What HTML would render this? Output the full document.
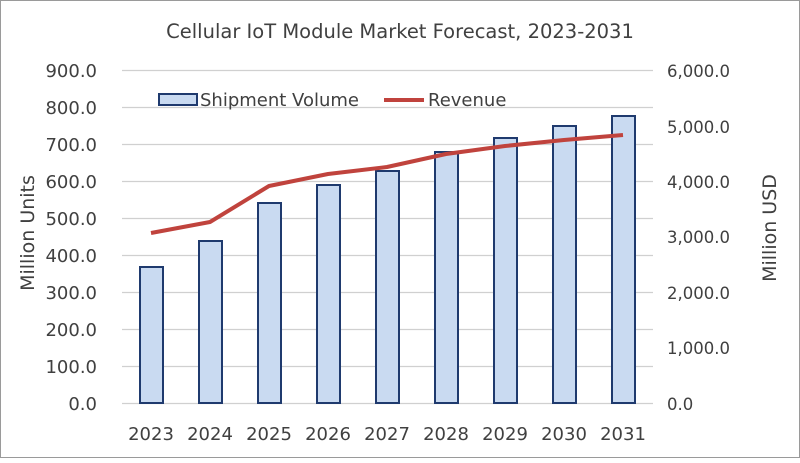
<!DOCTYPE html>
<html><head><style>body{margin:0;background:#fff}</style></head><body>
<svg width="800" height="458" xmlns="http://www.w3.org/2000/svg" font-family="'DejaVu Sans','Liberation Sans',sans-serif">
<rect x="0.5" y="0.5" width="799" height="457" fill="#fff" stroke="#9a9a9a"/>
<text x="400" y="38" font-size="19.5" text-anchor="middle" fill="#404040">Cellular IoT Module Market Forecast, 2023-2031</text>
<g stroke="#d0d0d0" stroke-width="1.3">
<line x1="122" x2="653" y1="70.5" y2="70.5"/><line x1="122" x2="653" y1="107.5" y2="107.5"/>
<line x1="122" x2="653" y1="144.5" y2="144.5"/><line x1="122" x2="653" y1="181.5" y2="181.5"/>
<line x1="122" x2="653" y1="218.5" y2="218.5"/><line x1="122" x2="653" y1="255.5" y2="255.5"/>
<line x1="122" x2="653" y1="292.5" y2="292.5"/><line x1="122" x2="653" y1="329.5" y2="329.5"/>
<line x1="122" x2="653" y1="366.5" y2="366.5"/><line x1="122" x2="653" y1="403.5" y2="403.5"/>
</g>
<g font-size="18" fill="#404040" text-anchor="end">
<text x="97" y="77">900.0</text><text x="97" y="114">800.0</text><text x="97" y="151">700.0</text>
<text x="97" y="188">600.0</text><text x="97" y="225">500.0</text><text x="97" y="262">400.0</text>
<text x="97" y="299">300.0</text><text x="97" y="336">200.0</text><text x="97" y="373">100.0</text>
<text x="97" y="410">0.0</text>
</g>
<g font-size="16.5" fill="#404040">
<text x="667" y="77">6,000.0</text><text x="667" y="133">5,000.0</text><text x="667" y="188">4,000.0</text>
<text x="667" y="243">3,000.0</text><text x="667" y="299">2,000.0</text><text x="667" y="354">1,000.0</text>
<text x="667" y="410">0.0</text>
</g>
<text transform="translate(34,233) rotate(-90)" font-size="19" fill="#404040" text-anchor="middle">Million Units</text>
<text transform="translate(776,228) rotate(-90)" font-size="19" fill="#404040" text-anchor="middle">Million USD</text>
<g fill="#c9daf1" stroke="#1f3a6e" stroke-width="2">
<rect x="140" y="267" width="23" height="136"/>
<rect x="199" y="241" width="23" height="162"/>
<rect x="258" y="203" width="23" height="200"/>
<rect x="317" y="185" width="23" height="218"/>
<rect x="376" y="171" width="23" height="232"/>
<rect x="435" y="152" width="23" height="251"/>
<rect x="494" y="138" width="23" height="265"/>
<rect x="553" y="126" width="23" height="277"/>
<rect x="612" y="116" width="23" height="287"/>
</g>
<polyline fill="none" stroke="#c0433d" stroke-width="4" stroke-linejoin="round" points="151,233 210,222 269,186 328,174 387,167 446,154 505,146 564,140 623,135"/>
<g font-size="18" fill="#404040" text-anchor="middle">
<text x="151" y="440">2023</text><text x="210" y="440">2024</text><text x="269" y="440">2025</text>
<text x="328" y="440">2026</text><text x="387" y="440">2027</text><text x="446" y="440">2028</text>
<text x="505" y="440">2029</text><text x="564" y="440">2030</text><text x="623" y="440">2031</text>
</g>
<rect x="159" y="94" width="38" height="11" fill="#c9daf1" stroke="#1f3a6e" stroke-width="2"/>
<text x="200" y="106" font-size="18" fill="#404040">Shipment Volume</text>
<line x1="384" x2="424" y1="100" y2="100" stroke="#c0433d" stroke-width="4"/>
<text x="428" y="106" font-size="18" fill="#404040">Revenue</text>
</svg>
</body></html>
